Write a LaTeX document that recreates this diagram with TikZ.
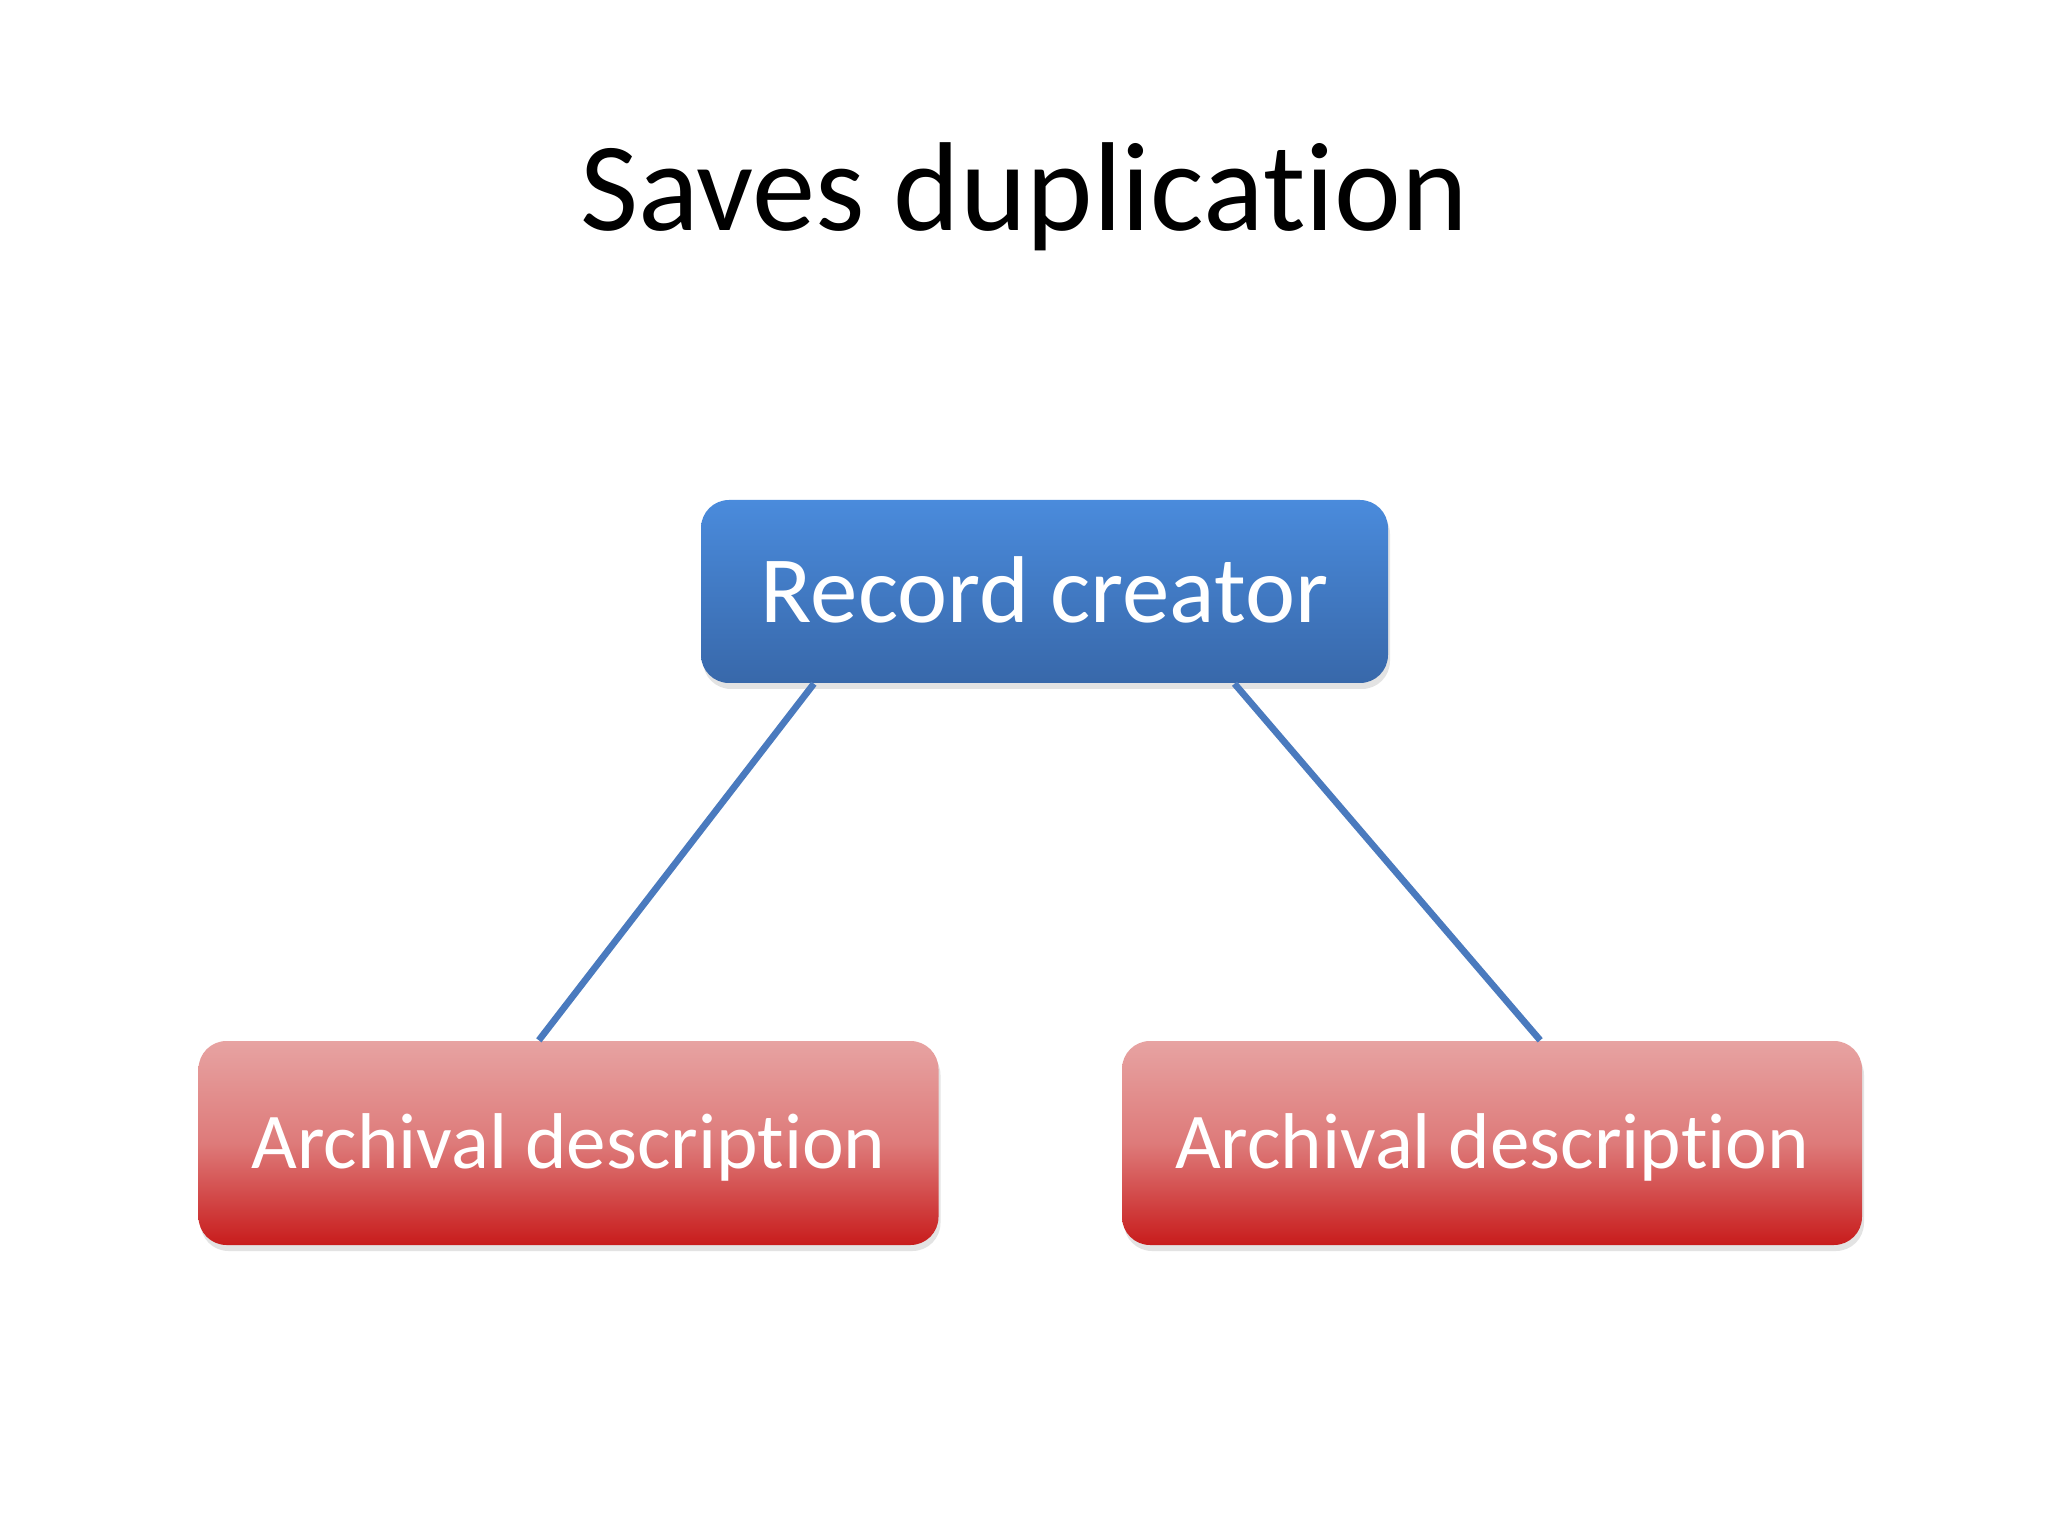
\documentclass[tikz,border=0pt]{standalone}
\usepackage{fontspec}
\setmainfont{Carlito}[RawFeature=-liga]
\usepackage{tikz}
\usetikzlibrary{shapes}
\usetikzlibrary{calc}
\usetikzlibrary{shadows}
\definecolor{creatortop}{RGB}{74,139,220}
\definecolor{creatorbottom}{RGB}{56,104,170}
\definecolor{desctop}{RGB}{231,163,162}
\definecolor{descbottom}{RGB}{200,28,28}
\definecolor{linkblue}{RGB}{74,122,190}
\tikzset{
  box/.style={rounded corners=0.28cm, inner sep=0pt, text=white, text depth=0pt,
    drop shadow={opacity=0.22, shadow xshift=0.02cm, shadow yshift=-0.06cm}},
  creatorbox/.style={box, top color=creatortop, bottom color=creatorbottom,
    minimum width=6.87cm, minimum height=1.83cm, text height=17.4pt,
    font=\fontsize{27}{32}\selectfont},
  descbox/.style={box, top color=desctop, bottom color=descbottom,
    middle color=desctop!70!descbottom,
    minimum width=7.4cm, minimum height=2.04cm, text height=14.5pt,
    font=\fontsize{22.5}{27}\selectfont},
  link/.style={draw=linkblue, line width=1.9pt}
}

\begin{document}
\begin{tikzpicture}
\fill[white] (0, 0) rectangle (20.48, -15.36);
\useasboundingbox (0, 0) rectangle (20.48, -15.36);

\node[anchor=base, font=\fontsize{36}{43}\selectfont] (title) at (10.24, -2.31) {Saves duplication};

\node[creatorbox] (creator) at (10.445, -5.915) {Record creator};
\node[descbox] (descleft) at (5.685, -11.43) {Archival description};
\node[descbox] (descright) at (14.92, -11.43) {Archival description};

\draw[link] ($(creator.south west)!0.165!(creator.south east)$) -- ($(descleft.north west)!0.46!(descleft.north east)$);
\draw[link] ($(creator.south west)!0.776!(creator.south east)$) -- ($(descright.north west)!0.565!(descright.north east)$);

\end{tikzpicture}
\end{document}
